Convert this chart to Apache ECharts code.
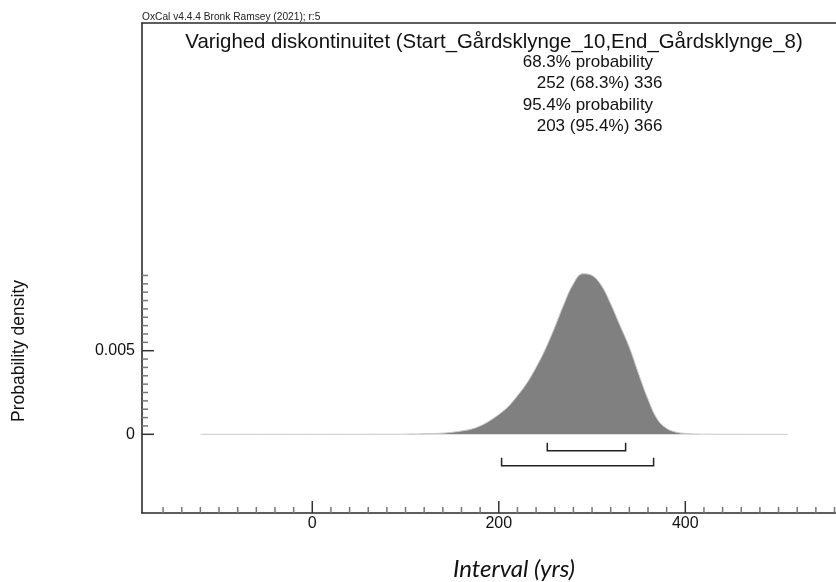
<!DOCTYPE html>
<html>
<head>
<meta charset="utf-8">
<title>Varighed diskontinuitet</title>
<script src="https://cdn.jsdelivr.net/npm/echarts@6/dist/echarts.min.js"></script>
<style>
  html, body { margin: 0; padding: 0; background: #fff; }
  #main { width: 836px; height: 582px; }
</style>
</head>
<body>
<div id="main"></div>
<script>
// posterior density of the interval (years vs probability density)
var densityYears = [-120, -80, -40, 0, 40, 80, 100, 120, 140, 150, 160, 170, 180, 190, 200, 210, 220, 230, 240, 250,
  260, 270, 280, 290, 300, 310, 320, 330, 340, 350, 360, 370, 380, 390, 400, 410, 420, 440, 480, 510];
var densityValues = [0, 0, 0, 0, 0, 0.000002, 0.00001, 0.00003, 0.00007, 0.00012, 0.0002, 0.0003, 0.0005, 0.0008, 0.00118, 0.00165, 0.0023, 0.00305, 0.0040, 0.0051,
  0.0064, 0.0078, 0.0090, 0.0096, 0.0095, 0.0089, 0.0078, 0.0065, 0.0052, 0.0036, 0.0021, 0.0009, 0.00035, 0.00013, 0.00005, 0.00002, 0.00001, 0, 0, 0];

// highest posterior density ranges
var rangeFrom = [252, 203];
var rangeTo = [336, 366];
var rangeLabels = ['68.3% probability', '95.4% probability'];

// axis ticks
var xMajorTicks = [0, 200, 400];
var xTickLabels = ['0', '200', '400'];
var xMinorStep = 20;
var yMajorTicks = [0, 0.005];
var yTickLabels = ['0', '0.005'];
var yMinorTicks = [0.0005, 0.001, 0.0015, 0.002, 0.0025, 0.003, 0.0035, 0.004, 0.0045,
  0.0055, 0.006, 0.0065, 0.007, 0.0075, 0.008, 0.0085, 0.009, 0.0095];

var X_MIN = -182.6, X_MAX = 561.6;
var Y_MIN = -0.004707, Y_MAX = 0.0246;
var FONT = "'Liberation Sans', Arial, sans-serif";

var chart = echarts.init(document.getElementById('main'));

var curve = densityYears.map(function (y, i) { return [y, densityValues[i]]; });

// tick items: [axis (0 = x, 1 = y), value, major, label]
var tickItems = [];
for (var v = -160; v < X_MAX; v += xMinorStep) {
  if (xMajorTicks.indexOf(v) < 0) tickItems.push([0, v, 0, '']);
}
xMajorTicks.forEach(function (v, i) { tickItems.push([0, v, 1, xTickLabels[i]]); });
yMinorTicks.forEach(function (v) { tickItems.push([1, v, 0, '']); });
yMajorTicks.forEach(function (v, i) { tickItems.push([1, v, 1, yTickLabels[i]]); });

var ranges = rangeFrom.map(function (f, i) { return [f, rangeTo[i], i]; });

var axisLine = { show: true, onZero: false, lineStyle: { color: '#2a2a2a', width: 1.6 } };

var option = {
  animation: false,
  backgroundColor: '#fff',
  grid: { left: 142, right: 0, top: 23, bottom: 69 },
  xAxis: [
    {
      type: 'value', min: X_MIN, max: X_MAX, position: 'bottom',
      axisLine: axisLine,
      axisTick: { show: false }, axisLabel: { show: false }, splitLine: { show: false }
    },
    {
      type: 'value', min: X_MIN, max: X_MAX, position: 'top',
      axisLine: axisLine,
      axisTick: { show: false }, axisLabel: { show: false }, splitLine: { show: false }
    }
  ],
  yAxis: {
    type: 'value', min: Y_MIN, max: Y_MAX,
    axisLine: axisLine,
    axisTick: { show: false }, axisLabel: { show: false }, splitLine: { show: false }
  },
  series: [
    {
      name: 'density', type: 'line', data: curve, smooth: 0.4,
      showSymbol: false, symbol: 'none',
      lineStyle: { color: '#c8c8c8', width: 1 },
      areaStyle: { color: '#808080', opacity: 1 },
      z: 2
    },
    {
      name: 'ranges', type: 'custom', data: ranges, clip: false, z: 3,
      renderItem: function (params, api) {
        var a = api.coord([api.value(0), 0]);
        var b = api.coord([api.value(1), 0]);
        var level = api.value(2);
        var yb = a[1] + 16.4 + level * 15;
        var yt = yb - 8;
        return {
          type: 'polyline',
          shape: { points: [[a[0], yt], [a[0], yb], [b[0], yb], [b[0], yt]] },
          style: { stroke: '#222', lineWidth: 1.5, fill: null }
        };
      }
    },
    {
      name: 'ticks', type: 'custom', data: tickItems, clip: false, z: 4,
      renderItem: function (params, api) {
        var axis = api.value(0), val = api.value(1), major = api.value(2);
        var label = tickItems[params.dataIndex][3];
        var len = major ? 12 : 6;
        var color = major ? '#333' : '#777';
        var children = [];
        if (axis === 0) {
          var p = api.coord([val, Y_MIN]);
          children.push({ type: 'line', shape: { x1: p[0], y1: p[1], x2: p[0], y2: p[1] - len },
            style: { stroke: color, lineWidth: 1.5 } });
          if (label) children.push({ type: 'text', x: p[0], y: p[1] + 3,
            style: { text: label, font: '16px ' + FONT, fill: '#111', align: 'center', verticalAlign: 'top' } });
        } else {
          var q = api.coord([X_MIN, val]);
          children.push({ type: 'line', shape: { x1: q[0], y1: q[1], x2: q[0] + len, y2: q[1] },
            style: { stroke: color, lineWidth: 1.5 } });
          if (label) children.push({ type: 'text', x: q[0] - 7, y: q[1],
            style: { text: label, font: '16px ' + FONT, fill: '#111', align: 'right', verticalAlign: 'middle' } });
        }
        return { type: 'group', children: children };
      }
    }
  ],
  graphic: [
    { type: 'text', left: 142, top: 12,
      style: { text: 'OxCal v4.4.4 Bronk Ramsey (2021); r:5', font: '10.2px ' + FONT, fill: '#222' } },
    { type: 'text', x: 494, y: 42,
      style: { text: 'Varighed diskontinuitet (Start_Gårdsklynge_10,End_Gårdsklynge_8)', font: '20.4px ' + FONT,
        fill: '#111', align: 'center', verticalAlign: 'middle' } },
    { type: 'text', x: 522.7, y: 62,
      style: { text: rangeLabels[0], font: '17px ' + FONT, fill: '#111', verticalAlign: 'middle' } },
    { type: 'text', x: 536.7, y: 83.5,
      style: { text: rangeFrom[0] + ' (68.3%) ' + rangeTo[0], font: '17px ' + FONT, fill: '#111', verticalAlign: 'middle' } },
    { type: 'text', x: 522.7, y: 105,
      style: { text: rangeLabels[1], font: '17px ' + FONT, fill: '#111', verticalAlign: 'middle' } },
    { type: 'text', x: 536.7, y: 126.5,
      style: { text: rangeFrom[1] + ' (95.4%) ' + rangeTo[1], font: '17px ' + FONT, fill: '#111', verticalAlign: 'middle' } },
    { type: 'text', x: 19.3, y: 351, rotation: Math.PI / 2,
      style: { text: 'Probability density', font: '17.5px ' + FONT, fill: '#111', align: 'center', verticalAlign: 'middle' } },
    { type: 'text', x: 514, y: 569,
      style: { text: 'Interval (yrs)', font: 'italic 24px Lato, sans-serif', fill: '#111', align: 'center', verticalAlign: 'middle' } }
  ]
};

chart.setOption(option);
</script>
</body>
</html>
